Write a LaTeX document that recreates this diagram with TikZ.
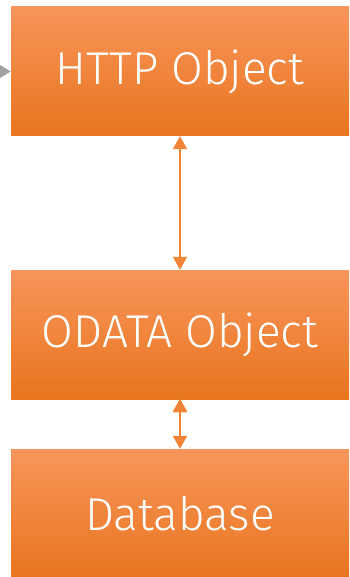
\documentclass[tikz,border=0pt]{standalone}
\usepackage{fontspec}
\setmainfont{Fira Sans Light}
\usetikzlibrary{arrows.meta}
\definecolor{boxtop}{HTML}{F8955A}
\definecolor{boxmid}{HTML}{FE862F}
\definecolor{boxbot}{HTML}{E8751F}
\definecolor{linkcol}{HTML}{F28436}
\definecolor{incol}{HTML}{A3A3A3}
\tikzset{block/.style={shading=axis,top color=boxtop,middle color=boxmid,bottom color=boxbot,
    minimum width=338pt,minimum height=129pt,inner sep=0pt,text=white,
    font=\fontsize{46}{56}\selectfont},
  link/.style={{Triangle[width=14pt,length=13pt]}-{Triangle[width=14pt,length=13pt]},line width=2pt,draw=linkcol,fill=linkcol}}

\begin{document}
\begin{tikzpicture}[x=1pt,y=1pt]
\useasboundingbox (0,0) rectangle (349,-577);
\node[block] (http) at (180,-71.5) {HTTP Object};
\node[block] (odata) at (180,-334.5) {ODATA Object};
\node[block] (db) at (180,-513.5) {Database};
\coordinate (in) at (-30,-71.5);
\draw[-{Triangle[width=14pt,length=12pt]},line width=2pt,draw=incol,fill=incol] (in) -- (http.west);
\path[link] (http.south) edge (odata.north) (odata.south) edge (db.north);
\end{tikzpicture}
\end{document}
